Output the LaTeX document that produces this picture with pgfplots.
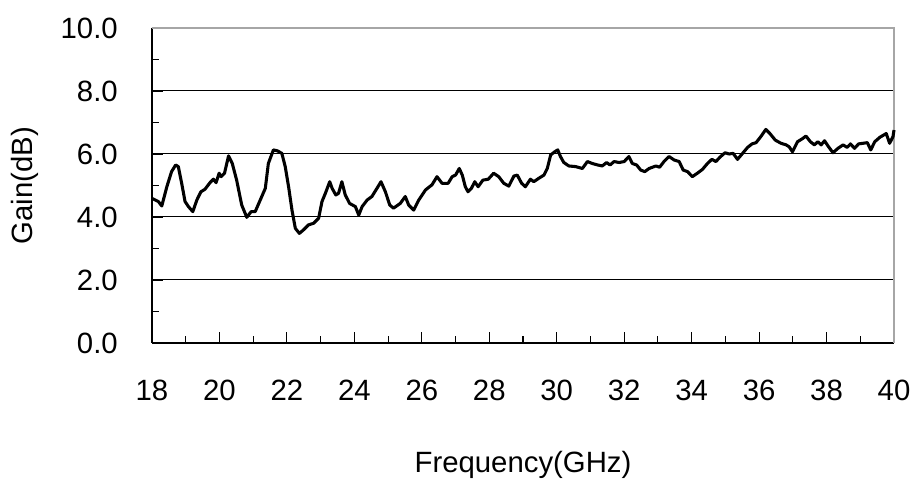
\documentclass[border=0pt]{standalone}
\usepackage{pgfplots}
\pgfplotsset{compat=1.18}
\usepackage{fontspec}
\setmainfont{Liberation Sans}
\pgfplotstableread{
x y
18.00 4.59
18.19 4.49
18.29 4.35
18.44 4.96
18.58 5.44
18.70 5.65
18.78 5.60
18.88 5.07
18.98 4.49
19.08 4.33
19.21 4.17
19.33 4.54
19.45 4.80
19.57 4.88
19.72 5.09
19.82 5.20
19.90 5.09
19.99 5.39
20.05 5.28
20.15 5.39
20.27 5.94
20.38 5.70
20.51 5.17
20.66 4.38
20.81 3.99
20.94 4.17
21.06 4.17
21.21 4.54
21.36 4.91
21.45 5.70
21.60 6.13
21.72 6.10
21.85 6.02
21.95 5.60
22.05 4.96
22.15 4.22
22.25 3.64
22.37 3.48
22.49 3.59
22.64 3.75
22.79 3.80
22.94 3.96
23.04 4.49
23.14 4.75
23.27 5.12
23.34 4.91
23.45 4.70
23.53 4.75
23.63 5.12
23.73 4.70
23.86 4.43
24.03 4.33
24.13 4.06
24.23 4.33
24.38 4.54
24.52 4.65
24.67 4.91
24.79 5.12
24.92 4.80
25.05 4.38
25.16 4.28
25.36 4.43
25.51 4.65
25.61 4.38
25.76 4.22
25.91 4.54
26.11 4.86
26.30 5.02
26.45 5.28
26.60 5.07
26.78 5.07
26.90 5.28
27.00 5.33
27.11 5.54
27.20 5.33
27.29 4.96
27.37 4.80
27.47 4.91
27.57 5.12
27.67 4.96
27.81 5.17
27.97 5.20
28.13 5.39
28.28 5.28
28.43 5.07
28.58 4.98
28.73 5.30
28.83 5.33
28.96 5.07
29.07 4.96
29.22 5.20
29.32 5.12
29.47 5.23
29.62 5.33
29.72 5.54
29.82 5.97
29.94 6.07
30.03 6.13
30.11 5.92
30.21 5.73
30.36 5.62
30.56 5.60
30.76 5.54
30.91 5.76
31.05 5.70
31.22 5.65
31.35 5.62
31.48 5.73
31.58 5.65
31.70 5.76
31.85 5.73
32.00 5.76
32.14 5.92
32.24 5.70
32.37 5.65
32.49 5.49
32.61 5.44
32.74 5.54
32.94 5.62
33.05 5.58
33.18 5.76
33.33 5.92
33.48 5.81
33.63 5.76
33.75 5.49
33.88 5.44
34.02 5.28
34.17 5.39
34.32 5.51
34.47 5.70
34.60 5.83
34.72 5.76
34.84 5.90
34.99 6.04
35.11 6.00
35.23 6.02
35.36 5.83
35.51 6.02
35.66 6.21
35.79 6.32
35.91 6.36
36.05 6.55
36.20 6.78
36.32 6.65
36.48 6.44
36.65 6.34
36.80 6.29
36.89 6.23
36.99 6.07
37.14 6.39
37.29 6.49
37.39 6.57
37.52 6.39
37.64 6.29
37.74 6.39
37.84 6.29
37.94 6.42
38.06 6.23
38.19 6.04
38.34 6.18
38.49 6.29
38.61 6.21
38.71 6.32
38.83 6.18
38.95 6.32
39.08 6.34
39.21 6.36
39.31 6.13
39.43 6.39
39.58 6.53
39.77 6.65
39.87 6.34
39.97 6.55
40.00 6.76
}\gaindata
\begin{document}
\begin{tikzpicture}
\useasboundingbox (-114pt,-111pt) rectangle (573.75pt,257.25pt);
\begin{axis}[
  at={(0,0)}, anchor=south west,
  scale only axis,
  width=556.5pt, height=236.25pt,
  xmin=18, xmax=40, ymin=0, ymax=10,
  axis x line*=bottom, axis y line*=left,
  axis line style={black, line width=1pt, -},
  xtick={18,20,...,40},
  minor xtick={19,21,...,39},
  ytick={0,2,...,10},
  minor ytick={1,3,...,9},
  yticklabel={\pgfmathprintnumber[fixed,fixed zerofill,precision=1]{\tick}},
  tick align=inside,
  major tick length=8pt, minor tick length=5.5pt,
  every tick/.style={black, line width=0.8pt},
  ymajorgrids,
  major grid style={black, line width=0.75pt},
  /pgf/number format/assume math mode=true,
  tick label style={font=\fontsize{22}{26}\selectfont, inner sep=0pt},
  xticklabel style={anchor=north, yshift=-27.75pt},
  yticklabel style={anchor=east, xshift=-25.5pt},
  xlabel={Frequency(GHz)},
  ylabel={Gain(dB)},
  label style={font=\fontsize{22}{26}\selectfont},
  x label style={at={(axis description cs:0.5,0)}, anchor=center, yshift=-91.5pt},
  y label style={at={([xshift=-95pt]axis description cs:0,0.5)}, anchor=center},
  clip=false,
]
\draw[gray!70, line width=1pt] (rel axis cs:0,1) -- (rel axis cs:1,1) -- (rel axis cs:1,0);
\addplot[black, line width=2.3pt, line join=round] table[x=x,y=y] {\gaindata};
\end{axis}
\end{tikzpicture}
\end{document}
